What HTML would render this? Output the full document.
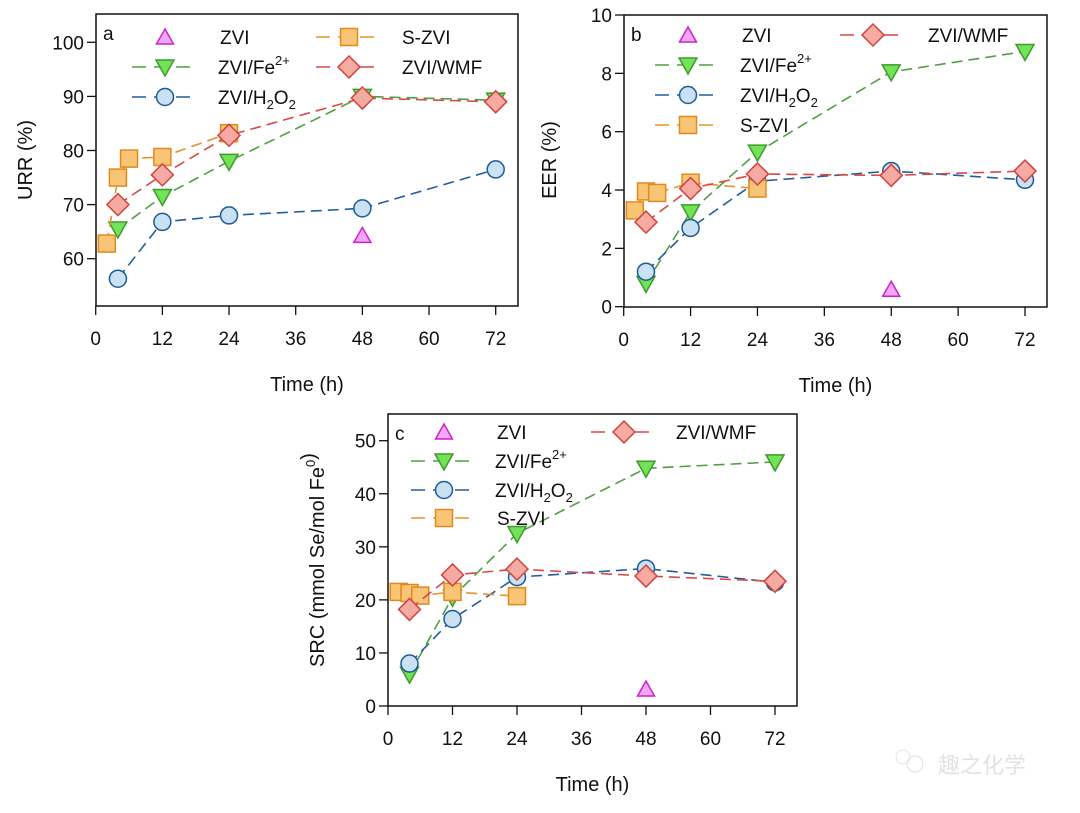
<!DOCTYPE html>
<html><head><meta charset="utf-8">
<style>
html,body{margin:0;padding:0;background:#fff;}
svg{display:block;}
text{font-family:"Liberation Sans",Arial,sans-serif;fill:#111;}
</style></head>
<body>
<svg id="fig" width="1080" height="813" viewBox="0 0 1080 813" xmlns="http://www.w3.org/2000/svg">
<g>
<circle cx="903" cy="757" r="7" fill="none" stroke="#e2e2e2" stroke-width="1"/>
<circle cx="915" cy="764" r="8" fill="none" stroke="#e2e2e2" stroke-width="1"/>
<text x="938" y="773" font-size="22" style="fill:#e2e2e2;font-family:'Liberation Sans','Noto Sans CJK SC',sans-serif">趣之化学</text>
</g>
</svg>
<script>
const timesA = [2,4,6,12,24];
const timesB = [4,12,24,48,72];
const timesZ = [48];
// Panel a: URR (%)
const aSZVI = [62.8,75,78.5,78.8,83.2];
const aWMF = [70,75.5,82.8,89.7,89];
const aFe = [65.5,71.5,78,90,89.3];
const aH2O2 = [56.3,66.8,68,69.3,76.5];
const aZVI = [64.3];
// Panel b: EER (%)
const bSZVI = [3.3,3.95,3.9,4.25,4.05];
const bWMF = [2.9,4.05,4.55,4.5,4.65];
const bFe = [0.8,3.25,5.3,8.05,8.75];
const bH2O2 = [1.2,2.7,4.3,4.65,4.35];
const bZVI = [0.6];
// Panel c: SRC
const cSZVI = [21.5,21.3,20.8,21.5,20.7];
const cWMF = [18.2,24.7,25.8,24.5,23.5];
const cFe = [6,20.5,32.5,44.8,46];
const cH2O2 = [8,16.4,24.3,25.9,23.3];
const cZVI = [3.2];
const xTicks = [0,12,24,36,48,60,72];
const aTicks = [60,70,80,90,100];
const bTicks = [0,2,4,6,8,10];
const cTicks = [0,10,20,30,40,50];

const NS="http://www.w3.org/2000/svg";
const svg=document.getElementById('fig');
function mk(tag,attrs,parent){const e=document.createElementNS(NS,tag);for(const k in attrs)e.setAttribute(k,attrs[k]);(parent||svg).appendChild(e);return e;}

const ST={
 zvi:{fill:'#f3a6f3',stroke:'#cc22cc',line:'none',shape:'tri'},
 fe:{fill:'#72e256',stroke:'#3e9a2e',line:'#4fa040',shape:'itri'},
 h2o2:{fill:'#c9e1f2',stroke:'#1d5c98',line:'#225f9c',shape:'circ'},
 szvi:{fill:'#f8c476',stroke:'#e08a1e',line:'#e8922a',shape:'sq'},
 wmf:{fill:'#f5aaa2',stroke:'#d0433e',line:'#d84a44',shape:'dia'}
};
function marker(g,st,x,y){
 let e;
 if(st.shape==='circ') e=mk('circle',{cx:x,cy:y,r:8.5},g);
 else if(st.shape==='sq') e=mk('rect',{x:x-8.5,y:y-8.5,width:17,height:17},g);
 else if(st.shape==='dia') e=mk('polygon',{points:`${x},${y-11} ${x+11},${y} ${x},${y+11} ${x-11},${y}`},g);
 else if(st.shape==='tri') e=mk('polygon',{points:`${x},${y-8} ${x+8.5},${y+7} ${x-8.5},${y+7}`},g);
 else e=mk('polygon',{points:`${x-9},${y-7} ${x+9},${y-7} ${x},${y+9}`},g);
 e.setAttribute('fill',st.fill);e.setAttribute('stroke',st.stroke);e.setAttribute('stroke-width','1.5');
 
 
 return e;
}
function series(p,name,st,xs,ys){
 const g=mk('g',{});
 
 
 if(st.line!=='none'){
  const pts=xs.map((t,i)=>p.sx(t)+','+p.sy(ys[i])).join(' ');
  const l=mk('polyline',{points:pts,fill:'none',stroke:st.line,'stroke-width':1.6,'stroke-dasharray':'11,6'},g);
  
  
 }
 xs.forEach((t,i)=>marker(g,st,p.sx(t),p.sy(ys[i])));
}
function legend(p,key,label,mx,y,tx){
 const st=ST[key];
 const g=mk('g',{});
 
 
 if(st.line!=='none') mk('line',{x1:mx-35,x2:mx+32,y1:y,y2:y,stroke:st.line,'stroke-width':1.6,'stroke-dasharray':'14,8','stroke-dashoffset':'-2'},g);
 marker(g,st,mx,y);
 const t=mk('text',{x:tx,y:y+7,'font-size':19},g);
 t.innerHTML=label;
}
function panel(id,L,R,T,B,x0,x72,yv0,yp0,yv1,yp1,ticks,letter,ytitle,ytx,yty){
 const p={id};
 p.sx=t=>x0+(x72-x0)*t/72;
 p.sy=v=>yp0+(yp1-yp0)*(v-yv0)/(yv1-yv0);
 const g=mk('g',{});
 
 
 mk('rect',{x:L,y:T,width:R-L,height:B-T,fill:'none',stroke:'#111','stroke-width':1.5},g);
 xTicks.forEach(t=>{const x=p.sx(t);mk('line',{x1:x,x2:x,y1:B,y2:B+9,stroke:'#111','stroke-width':1.3},g);
  const tx=mk('text',{x:x,y:B+39,'font-size':19,'text-anchor':'middle'},g);tx.textContent=t;});
 ticks.forEach(v=>{const y=p.sy(v);mk('line',{x1:L-9,x2:L,y1:y,y2:y,stroke:'#111','stroke-width':1.3},g);
  const tx=mk('text',{x:L-12,y:y+7,'font-size':19,'text-anchor':'end'},g);tx.textContent=v;});
 const lt=mk('text',{x:L+7,y:T+26,'font-size':19},g);lt.textContent=letter;
 const xt=mk('text',{x:(L+R)/2,y:B+85,'font-size':20,'text-anchor':'middle'},g);xt.textContent='Time (h)';
 
 
 const yt=mk('text',{x:ytx,y:yty,'font-size':20,'text-anchor':'middle',transform:`rotate(-90 ${ytx} ${yty})`},g);yt.innerHTML=ytitle;
 
 
 return p;
}
const H2O2='ZVI/H<tspan font-size="13" dy="5">2</tspan><tspan dy="-5">O</tspan><tspan font-size="13" dy="5">2</tspan>';
const FE='ZVI/Fe<tspan font-size="13" dy="-9">2+</tspan>';

// Panel a
const pa=panel('panel-a',96,518,14,306,95.7,495.7,60,258.7,100,42.3,aTicks,'a','URR (%)',32,160);
series(pa,'zvi-fe2',ST.fe,timesB,aFe);
series(pa,'zvi-h2o2',ST.h2o2,timesB,aH2O2);
series(pa,'s-zvi',ST.szvi,timesA,aSZVI);
series(pa,'zvi-wmf',ST.wmf,timesB,aWMF);
series(pa,'zvi',ST.zvi,timesZ,aZVI);
legend(pa,'zvi','ZVI',165,37,220);
legend(pa,'fe',FE,165,67,218);
legend(pa,'h2o2',H2O2,165,97,218);
legend(pa,'szvi','S-ZVI',349,37,402);
legend(pa,'wmf','ZVI/WMF',349,67,402);

// Panel b
const pb=panel('panel-b',624,1047,15,307,623.7,1025,0,306.7,10,15,bTicks,'b','EER (%)',556,160);
series(pb,'zvi-fe2',ST.fe,timesB,bFe);
series(pb,'zvi-h2o2',ST.h2o2,timesB,bH2O2);
series(pb,'s-zvi',ST.szvi,timesA,bSZVI);
series(pb,'zvi-wmf',ST.wmf,timesB,bWMF);
series(pb,'zvi',ST.zvi,timesZ,bZVI);
legend(pb,'zvi','ZVI',688,35,742);
legend(pb,'fe',FE,688,65,740);
legend(pb,'h2o2',H2O2,688,95,740);
legend(pb,'szvi','S-ZVI',688,125,740);
legend(pb,'wmf','ZVI/WMF',873,35,928);

// Panel c
const pc=panel('panel-c',388,797,414,706,388,775,0,706,50,440.7,cTicks,'c','SRC (mmol Se/mol Fe<tspan font-size="13" dy="-9">0</tspan>)',324,560);
series(pc,'zvi-fe2',ST.fe,timesB,cFe);
series(pc,'zvi-h2o2',ST.h2o2,timesB,cH2O2);
series(pc,'s-zvi',ST.szvi,timesA,cSZVI);
series(pc,'zvi-wmf',ST.wmf,timesB,cWMF);
series(pc,'zvi',ST.zvi,timesZ,cZVI);
legend(pc,'zvi','ZVI',444,432,497);
legend(pc,'fe',FE,444,461,495);
legend(pc,'h2o2',H2O2,444,490,495);
legend(pc,'szvi','S-ZVI',444,518,497);
legend(pc,'wmf','ZVI/WMF',624,432,676);
</script>
</body></html>
